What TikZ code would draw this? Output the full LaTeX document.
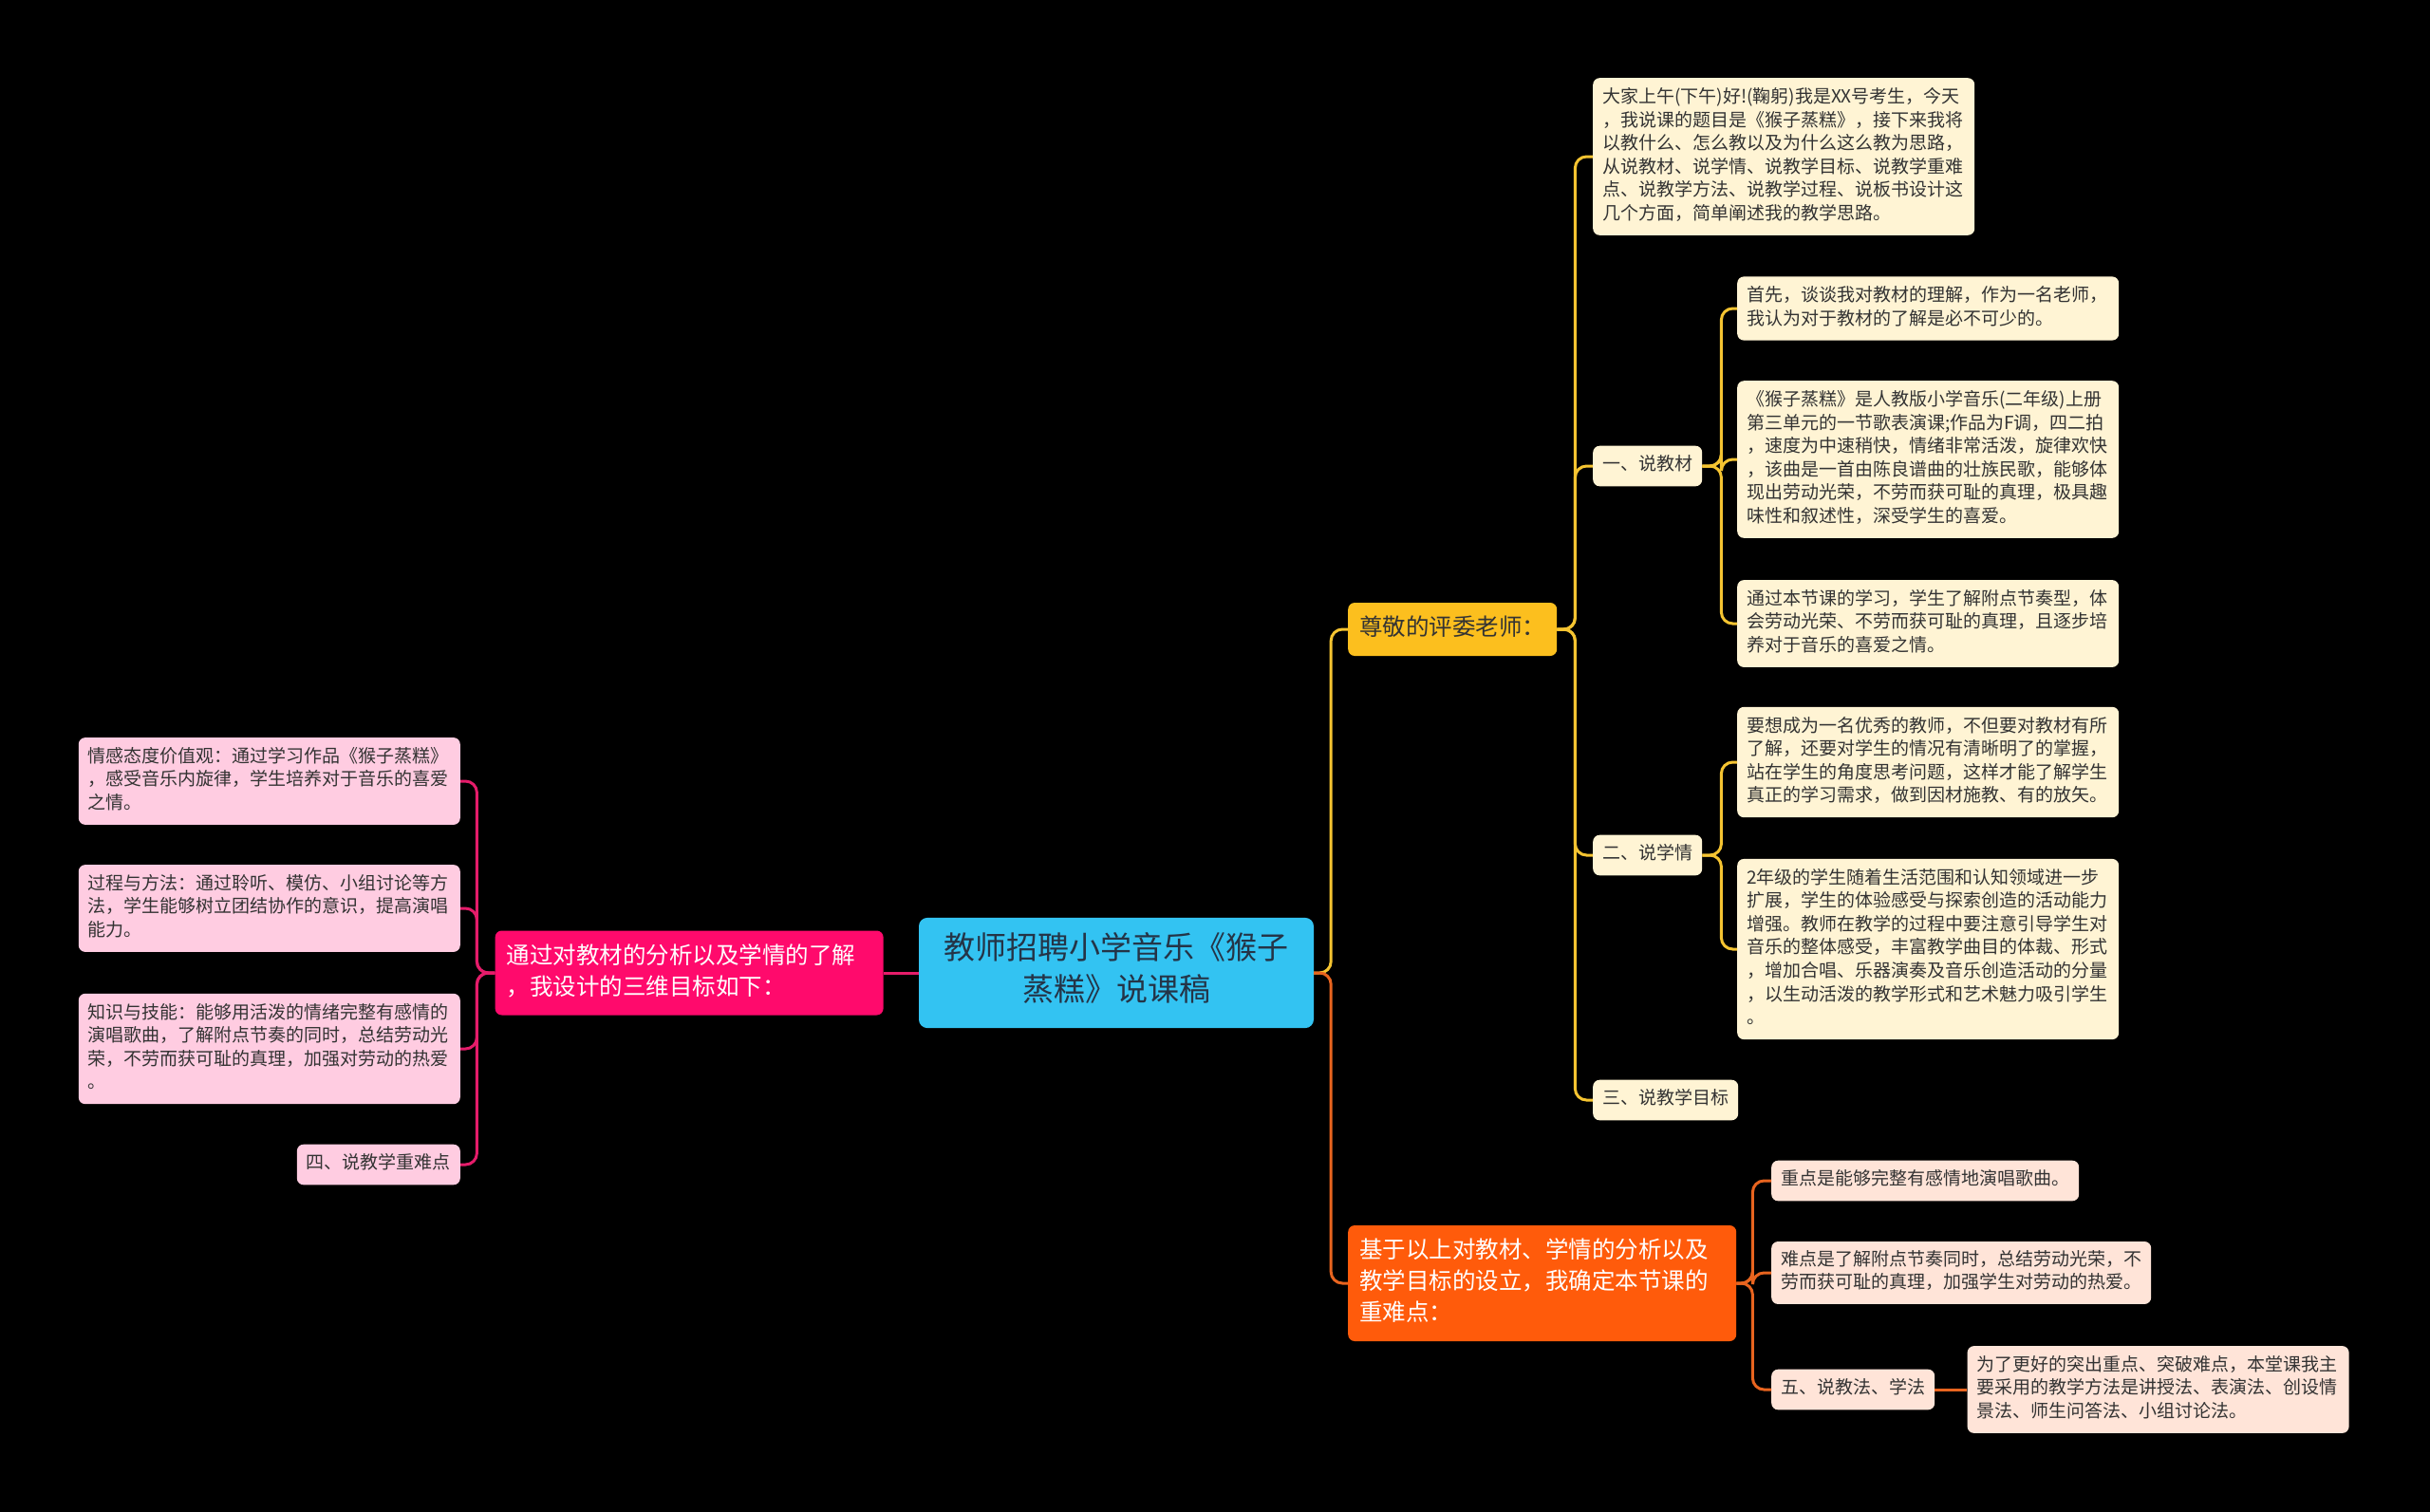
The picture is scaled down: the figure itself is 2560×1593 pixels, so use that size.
\documentclass[tikz,border=0pt]{standalone}
\usepackage{fontspec}
\newfontfamily\cjk{Noto Sans CJK SC}
\usetikzlibrary{positioning}
\definecolor{rootblue}{HTML}{33C3F2}
\definecolor{roottext}{HTML}{243447}
\definecolor{pinkmain}{HTML}{FF0A6C}
\definecolor{pinkleaf}{HTML}{FFCCE1}
\definecolor{pinkline}{HTML}{E51C6A}
\definecolor{yellowmain}{HTML}{FCBF1E}
\definecolor{yellowleaf}{HTML}{FFF4D4}
\definecolor{yellowline}{HTML}{F5C431}
\definecolor{orangemain}{HTML}{FF5B0B}
\definecolor{orangeleaf}{HTML}{FFE4D8}
\definecolor{orangeline}{HTML}{E8641F}
\definecolor{leaftext}{HTML}{333333}

\begin{document}
\begin{tikzpicture}[x=1pt, y=-1pt,
  leaf/.style={rounded corners=7pt, inner xsep=10pt, inner ysep=9pt, align=left,
               text=leaftext, font=\cjk\fontsize{19}{24.6}\selectfont,
               execute at begin node=\strut, execute at end node=\strut},
  wide/.style={text width=382pt},
  main/.style={rounded corners=7pt, inner xsep=12pt, inner ysep=11.5pt, align=left,
               font=\cjk\fontsize{24.5}{33}\selectfont,
               execute at begin node=\strut, execute at end node=\strut},
  link/.style={line width=3pt, rounded corners=12pt}
]
\useasboundingbox (0,0) rectangle (2560,1593);
\fill[black] (0,0) rectangle (2560,1593);

% centre
\node[rounded corners=9pt, fill=rootblue, text=roottext, align=center,
      minimum width=416pt, inner ysep=15.5pt,
      font=\cjk\fontsize{33}{44}\selectfont,
      execute at begin node=\strut, execute at end node=\strut]
      (root) at (1176,1025) {教师招聘小学音乐《猴子\\蒸糕》说课稿};

% left branch
\node[main, fill=pinkmain, text=white, text width=385pt, left=37pt of root] (goal)
  {通过对教材的分析以及学情的了解\\，我设计的三维目标如下：};
\node[leaf, wide, fill=pinkleaf, anchor=east] (qg) at (485,823)
  {情感态度价值观：通过学习作品《猴子蒸糕》\\，感受音乐内旋律，学生培养对于音乐的喜爱\\之情。};
\node[leaf, wide, fill=pinkleaf, anchor=east] (gc) at (485,957)
  {过程与方法：通过聆听、模仿、小组讨论等方\\法，学生能够树立团结协作的意识，提高演唱\\能力。};
\node[leaf, wide, fill=pinkleaf, anchor=east] (zs) at (485,1105)
  {知识与技能：能够用活泼的情绪完整有感情的\\演唱歌曲，了解附点节奏的同时，总结劳动光\\荣，不劳而获可耻的真理，加强对劳动的热爱\\。};
\node[leaf, fill=pinkleaf, anchor=east] (zdn) at (485,1227) {四、说教学重难点};

% upper right branch
\node[main, fill=yellowmain, text=leaftext, anchor=west] (greet) at (1420,663) {尊敬的评委老师：};
\node[leaf, wide, fill=yellowleaf, anchor=west] (intro) at (1678,165)
  {大家上午(下午)好!(鞠躬)我是XX号考生，今天\\，我说课的题目是《猴子蒸糕》，接下来我将\\以教什么、怎么教以及为什么这么教为思路，\\从说教材、说学情、说教学目标、说教学重难\\点、说教学方法、说教学过程、说板书设计这\\几个方面，简单阐述我的教学思路。};
\node[leaf, fill=yellowleaf, anchor=west] (jc) at (1678,491) {一、说教材};
\node[leaf, fill=yellowleaf, anchor=west] (xq) at (1678,901) {二、说学情};
\node[leaf, fill=yellowleaf, anchor=west] (mb) at (1678,1159) {三、说教学目标};

\node[leaf, wide, fill=yellowleaf, anchor=west] (jc1) at (1830,325)
  {首先，谈谈我对教材的理解，作为一名老师，\\我认为对于教材的了解是必不可少的。};
\node[leaf, wide, fill=yellowleaf, anchor=west] (jc2) at (1830,484)
  {《猴子蒸糕》是人教版小学音乐(二年级)上册\\第三单元的一节歌表演课;作品为F调，四二拍\\，速度为中速稍快，情绪非常活泼，旋律欢快\\，该曲是一首由陈良谱曲的壮族民歌，能够体\\现出劳动光荣，不劳而获可耻的真理，极具趣\\味性和叙述性，深受学生的喜爱。};
\node[leaf, wide, fill=yellowleaf, anchor=west] (jc3) at (1830,657)
  {通过本节课的学习，学生了解附点节奏型，体\\会劳动光荣、不劳而获可耻的真理，且逐步培\\养对于音乐的喜爱之情。};
\node[leaf, wide, fill=yellowleaf, anchor=west] (xq1) at (1830,803)
  {要想成为一名优秀的教师，不但要对教材有所\\了解，还要对学生的情况有清晰明了的掌握，\\站在学生的角度思考问题，这样才能了解学生\\真正的学习需求，做到因材施教、有的放矢。};
\node[leaf, wide, fill=yellowleaf, anchor=west] (xq2) at (1830,1000)
  {2年级的学生随着生活范围和认知领域进一步\\扩展，学生的体验感受与探索创造的活动能力\\增强。教师在教学的过程中要注意引导学生对\\音乐的整体感受，丰富教学曲目的体裁、形式\\，增加合唱、乐器演奏及音乐创造活动的分量\\，以生动活泼的教学形式和艺术魅力吸引学生\\。};

% lower right branch
\node[main, fill=orangemain, text=white, text width=385pt, anchor=west] (key) at (1420,1352)
  {基于以上对教材、学情的分析以及\\教学目标的设立，我确定本节课的\\重难点：};
\node[leaf, fill=orangeleaf, anchor=west] (zd) at (1866,1244) {重点是能够完整有感情地演唱歌曲。};
\node[leaf, fill=orangeleaf, anchor=west] (nd) at (1866,1341)
  {难点是了解附点节奏同时，总结劳动光荣，不\\劳而获可耻的真理，加强学生对劳动的热爱。};
\node[leaf, fill=orangeleaf, anchor=west] (jf) at (1866,1464) {五、说教法、学法};
\node[leaf, wide, fill=orangeleaf, right=34pt of jf] (jf1)
  {为了更好的突出重点、突破难点，本堂课我主\\要采用的教学方法是讲授法、表演法、创设情\\景法、师生问答法、小组讨论法。};

% connectors
\draw[link, pinkline] (root.west) -- (goal.east);
\draw[link, pinkline] (goal.west) -- ++(-19,0) |- (qg.east);
\draw[link, pinkline] (goal.west) -- ++(-19,0) |- (gc.east);
\draw[link, pinkline] (goal.west) -- ++(-19,0) |- (zs.east);
\draw[link, pinkline] (goal.west) -- ++(-19,0) |- (zdn.east);

\draw[link, yellowline] (root.east) -- ++(18,0) |- (greet.west);
\draw[link, orangeline] (root.east) -- ++(18,0) |- (key.west);

\draw[link, yellowline] (greet.east) -- ++(19,0) |- (intro.west);
\draw[link, yellowline] (greet.east) -- ++(19,0) |- (jc.west);
\draw[link, yellowline] (greet.east) -- ++(19,0) |- (xq.west);
\draw[link, yellowline] (greet.east) -- ++(19,0) |- (mb.west);

\draw[link, yellowline] (jc.east) -- ++(20,0) |- (jc1.west);
\draw[link, yellowline] (jc.east) -- ++(20,0) |- (jc2.west);
\draw[link, yellowline] (jc.east) -- ++(20,0) |- (jc3.west);
\draw[link, yellowline] (xq.east) -- ++(20,0) |- (xq1.west);
\draw[link, yellowline] (xq.east) -- ++(20,0) |- (xq2.west);

\draw[link, orangeline] (key.east) -- ++(17,0) |- (zd.west);
\draw[link, orangeline] (key.east) -- ++(17,0) |- (nd.west);
\draw[link, orangeline] (key.east) -- ++(17,0) |- (jf.west);
\draw[link, orangeline] (jf.east) -- (jf1.west);
\end{tikzpicture}
\end{document}
